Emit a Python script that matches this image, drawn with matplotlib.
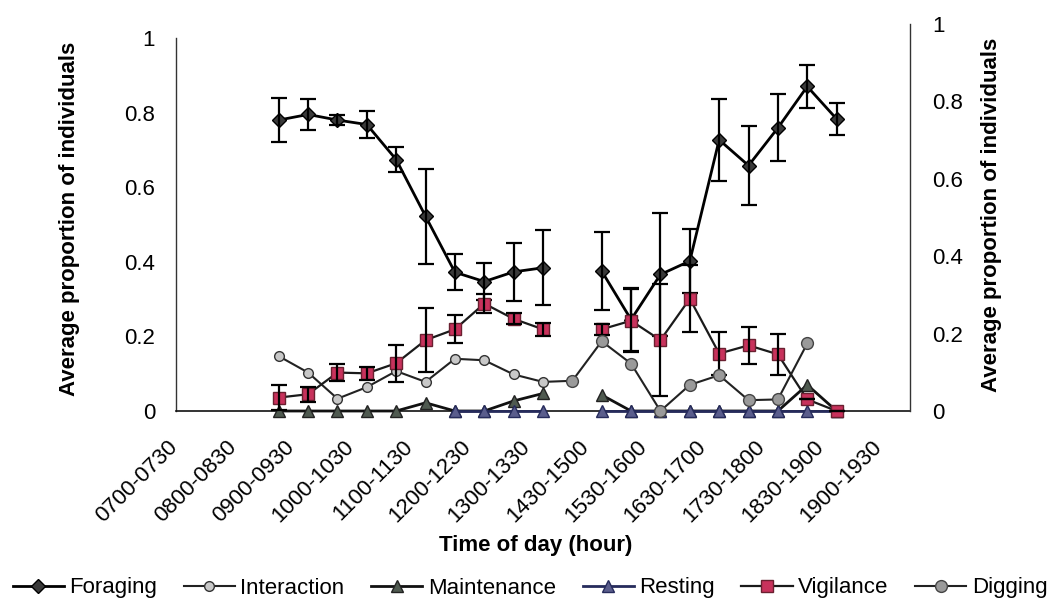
import numpy as np
import matplotlib
matplotlib.use('Agg')
import matplotlib.pyplot as plt
import matplotlib.transforms as mtransforms

plt.rcParams['font.family'] = ['Liberation Sans', 'DejaVu Sans']
nan = np.nan

# half-hour slots 0700-0730 ... 1900-1930 (every second one is labelled)
n_slots = 25
tick_labels = ['0700-0730', '0800-0830', '0900-0930', '1000-1030', '1100-1130',
               '1200-1230', '1300-1330', '1430-1500', '1530-1600', '1630-1700',
               '1730-1800', '1830-1900', '1900-1930']
y_ticks = [0, 0.2, 0.4, 0.6, 0.8, 1]
y_ticklabels = ['0', '0.2', '0.4', '0.6', '0.8', '1']

foraging = [nan, nan, nan, 0.78, 0.795, 0.78, 0.768, 0.674, 0.522, 0.372, 0.347,
            0.373, 0.384, nan, 0.375, 0.245, 0.366, 0.402, 0.727, 0.658, 0.759,
            0.87, 0.783, nan, nan]
foraging_err = [nan, nan, nan, 0.06, 0.042, 0.013, 0.036, 0.034, 0.128, 0.048, 0.05,
                0.077, 0.1, nan, 0.105, 0.085, 0.165, 0.085, 0.11, 0.106, 0.09,
                0.058, 0.042, nan, nan]
interaction = [nan, nan, nan, 0.147, 0.103, 0.033, 0.064, 0.107, 0.078, 0.14, 0.136,
               0.098, 0.078, 0.081, nan, nan, nan, nan, nan, nan, nan,
               nan, nan, nan, nan]
maintenance = [nan, nan, nan, 0, 0, 0, 0, 0, 0.022, 0, 0,
               0.027, 0.047, nan, 0.043, 0, 0, 0, 0, 0, 0,
               0.07, 0, nan, nan]
resting = [nan, nan, nan, nan, nan, nan, nan, nan, nan, 0, 0,
           0, 0, nan, 0, 0, 0, 0, 0, 0, 0,
           0, 0, nan, nan]
vigilance = [nan, nan, nan, 0.036, 0.045, 0.103, 0.101, 0.128, 0.19, 0.219, 0.288,
             0.247, 0.219, nan, 0.219, 0.242, 0.19, 0.301, 0.154, 0.176, 0.152,
             0.031, 0.0, nan, nan]
vigilance_err = [nan, nan, nan, 0.033, 0.02, 0.022, 0.017, 0.05, 0.085, 0.038, 0.025,
                 0.015, 0.018, nan, 0.015, 0.085, 0.15, 0.09, 0.058, 0.05, 0.055,
                 0, 0, nan, nan]
digging = [nan, nan, nan, nan, nan, nan, nan, nan, nan, nan, nan,
           nan, nan, 0.081, 0.187, 0.127, 0.0, 0.07, 0.096, 0.029, 0.031,
           0.181, nan, nan, nan]

x = np.arange(n_slots)

fig = plt.figure(figsize=(10.6, 6.16), dpi=100)
W, H = 1060, 616
ax = fig.add_axes([176 / W, 205 / H, 734 / W, 373 / H])
ax2 = fig.add_axes([176 / W, 205 / H, 734 / W, 387 / H])

lw = 2.0
h_for, = ax.plot(x, foraging, '-D', color='black', lw=lw, ms=7,
                 mfc='#3a3a3a', mec='black', label='Foraging', zorder=3, clip_on=False)
ax.errorbar(x, foraging, yerr=foraging_err, fmt='none', ecolor='black',
            elinewidth=1.6, capsize=6, capthick=1.6, zorder=3, clip_on=False)
h_int, = ax.plot(x, interaction, '-o', color='#222222', lw=1.5, ms=7,
                 mfc='#c8c8c8', mec='#333333', label='Interaction', zorder=4,
                 clip_on=False)
h_mai, = ax.plot(x, maintenance, '-^', color='#111111', lw=lw, ms=8.5,
                 mfc='#4f5a50', mec='#222222', label='Maintenance', zorder=5,
                 clip_on=False)
h_res, = ax.plot(x, resting, '-^', color='#262b5c', lw=lw, ms=8,
                 mfc='#5a5d8c', mec='#262b5c', label='Resting', zorder=6,
                 clip_on=False)
h_vig, = ax.plot(x, vigilance, '-s', color='#1a1a1a', lw=1.6, ms=8,
                 mfc='#c8325c', mec='#6a2030', label='Vigilance', zorder=7,
                 clip_on=False)
ax.errorbar(x, vigilance, yerr=vigilance_err, fmt='none', ecolor='black',
            elinewidth=1.6, capsize=6, capthick=1.6, zorder=7, clip_on=False)
h_dig, = ax.plot(x, digging, '-o', color='#222222', lw=1.5, ms=8.5,
                 mfc='#9a9a9a', mec='#444444', label='Digging', zorder=8,
                 clip_on=False)

# left axis
ax.set_xlim(-0.5, n_slots - 0.5)
ax.set_ylim(0, 1)
ax.set_yticks(y_ticks)
ax.set_yticklabels(y_ticklabels)
ax.set_xticks(x[::2])
ax.set_xticklabels(tick_labels, rotation=45, ha='right', va='top')
ax.tick_params(axis='both', length=0, labelsize=16)
ax.tick_params(axis='y', pad=15)
ax.tick_params(axis='x', pad=18.5)
off = mtransforms.ScaledTranslation(-9 / 100, 0, fig.dpi_scale_trans)
for lab in ax.get_xticklabels():
    lab.set_transform(lab.get_transform() + off)
for s in ['top', 'right']:
    ax.spines[s].set_visible(False)
ax.spines['left'].set_color('#333333')
ax.spines['bottom'].set_color('#111111')
ax.spines['left'].set_linewidth(1.0)
ax.spines['bottom'].set_linewidth(1.2)
ax.set_ylabel('Average proportion of individuals', fontsize=16, fontweight='bold')
ax.yaxis.set_label_coords(-0.131, 0.515)
ax.set_xlabel('Time of day (hour)', fontsize=16, fontweight='bold')
ax.xaxis.set_label_coords(0.49, -0.332)

# right axis (secondary)
ax2.patch.set_visible(False)
ax2.set_xlim(-0.5, n_slots - 0.5)
ax2.set_ylim(0, 1)
ax2.set_xticks([])
ax2.yaxis.tick_right()
ax2.yaxis.set_label_position('right')
ax2.set_yticks(y_ticks)
ax2.set_yticklabels(y_ticklabels)
ax2.tick_params(axis='y', length=0, labelsize=16, pad=16)
for s in ['top', 'left', 'bottom']:
    ax2.spines[s].set_visible(False)
ax2.spines['right'].set_color('#333333')
ax2.spines['right'].set_linewidth(1.0)
ax2.set_ylabel('Average proportion of individuals', fontsize=16, fontweight='bold',
               rotation=90)
ax2.yaxis.set_label_coords(1.097, 0.506)

fig.legend(handles=[h_for, h_int, h_mai, h_res, h_vig, h_dig], ncol=6,
           loc='center', bbox_to_anchor=(0.5, (H - 588) / H), frameon=False,
           fontsize=16, handlelength=2.3, handletextpad=0.25, columnspacing=1.2)

fig.savefig('out.png', dpi=100, facecolor='white')
